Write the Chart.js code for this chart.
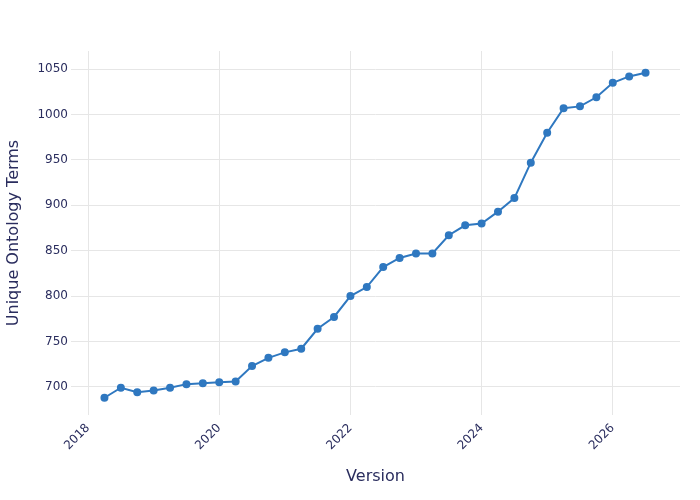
<!DOCTYPE html>
<html>
<head>
<meta charset="utf-8">
<script src="https://cdn.jsdelivr.net/npm/chart.js@4/dist/chart.umd.min.js"></script>
<style>
  html, body { margin: 0; padding: 0; background: #fff; }
  #wrap { width: 700px; height: 500px; }
</style>
</head>
<body>
<div id="wrap"><canvas id="termsChart"></canvas></div>
<script>
// quarterly releases, 2018.25 .. 2026.5
const versions = [
  2018.25, 2018.5, 2018.75, 2019, 2019.25, 2019.5, 2019.75, 2020,
  2020.25, 2020.5, 2020.75, 2021, 2021.25, 2021.5, 2021.75, 2022,
  2022.25, 2022.5, 2022.75, 2023, 2023.25, 2023.5, 2023.75, 2024,
  2024.25, 2024.5, 2024.75, 2025, 2025.25, 2025.5, 2025.75, 2026,
  2026.25, 2026.5
];
const uniqueTerms = [
  688, 699, 694, 696, 699, 703, 704, 705,
  706, 723, 732, 738, 742, 764, 777, 800,
  810, 832, 842, 847, 847, 867, 878, 880,
  893, 908, 947, 980, 1007, 1009, 1019, 1035,
  1042, 1046
];
const xTicks = [2018, 2020, 2022, 2024, 2026];
const yTicks = [700, 750, 800, 850, 900, 950, 1000, 1050];

const textColor = '#2a2d5e';
const gridColor = '#e6e6e6';
const lineColor = '#2f78c0';

const ctx = document.getElementById('termsChart').getContext('2d');
new Chart(ctx, {
    type: 'line',
    data: {
        datasets: [{
            label: 'Unique Ontology Terms',
            data: versions.map((v, i) => ({ x: v, y: uniqueTerms[i] })),
            borderColor: lineColor,
            backgroundColor: lineColor,
            borderWidth: 2,
            pointRadius: 3,
            pointHoverRadius: 3,
            tension: 0
        }]
    },
    options: {
        responsive: true,
        maintainAspectRatio: false,
        animation: false,
        layout: { padding: { top: 51, right: 20, left: 0, bottom: 0 } },
        plugins: {
            legend: { display: false },
            tooltip: { enabled: false }
        },
        scales: {
            x: {
                type: 'linear',
                min: 2017.74,
                max: 2027.025,
                afterBuildTicks: axis => { axis.ticks = xTicks.map(v => ({ value: v })); },
                afterFit: axis => { axis.height = 85; },
                border: { display: false },
                grid: { color: gridColor, drawTicks: false },
                ticks: {
                    color: textColor,
                    font: { family: 'DejaVu Sans', size: 12 },
                    minRotation: 45,
                    maxRotation: 45,
                    padding: 6,
                    callback: v => String(v)
                },
                title: {
                    display: true,
                    text: 'Version',
                    color: textColor,
                    font: { family: 'DejaVu Sans', size: 16 },
                    padding: { top: 0, bottom: 14 }
                }
            },
            y: {
                min: 669,
                max: 1070,
                afterBuildTicks: axis => { axis.ticks = yTicks.map(v => ({ value: v })); },
                afterFit: axis => { axis.width = 71; },
                border: { display: false },
                grid: { color: gridColor, drawTicks: false },
                ticks: {
                    color: textColor,
                    font: { family: 'DejaVu Sans', size: 12 },
                    padding: 3,
                    callback: v => String(v)
                },
                title: {
                    display: true,
                    text: 'Unique Ontology Terms',
                    color: textColor,
                    font: { family: 'DejaVu Sans', size: 16 },
                    padding: { top: 4, bottom: 0 }
                }
            }
        }
    }
});
</script>
</body>
</html>
